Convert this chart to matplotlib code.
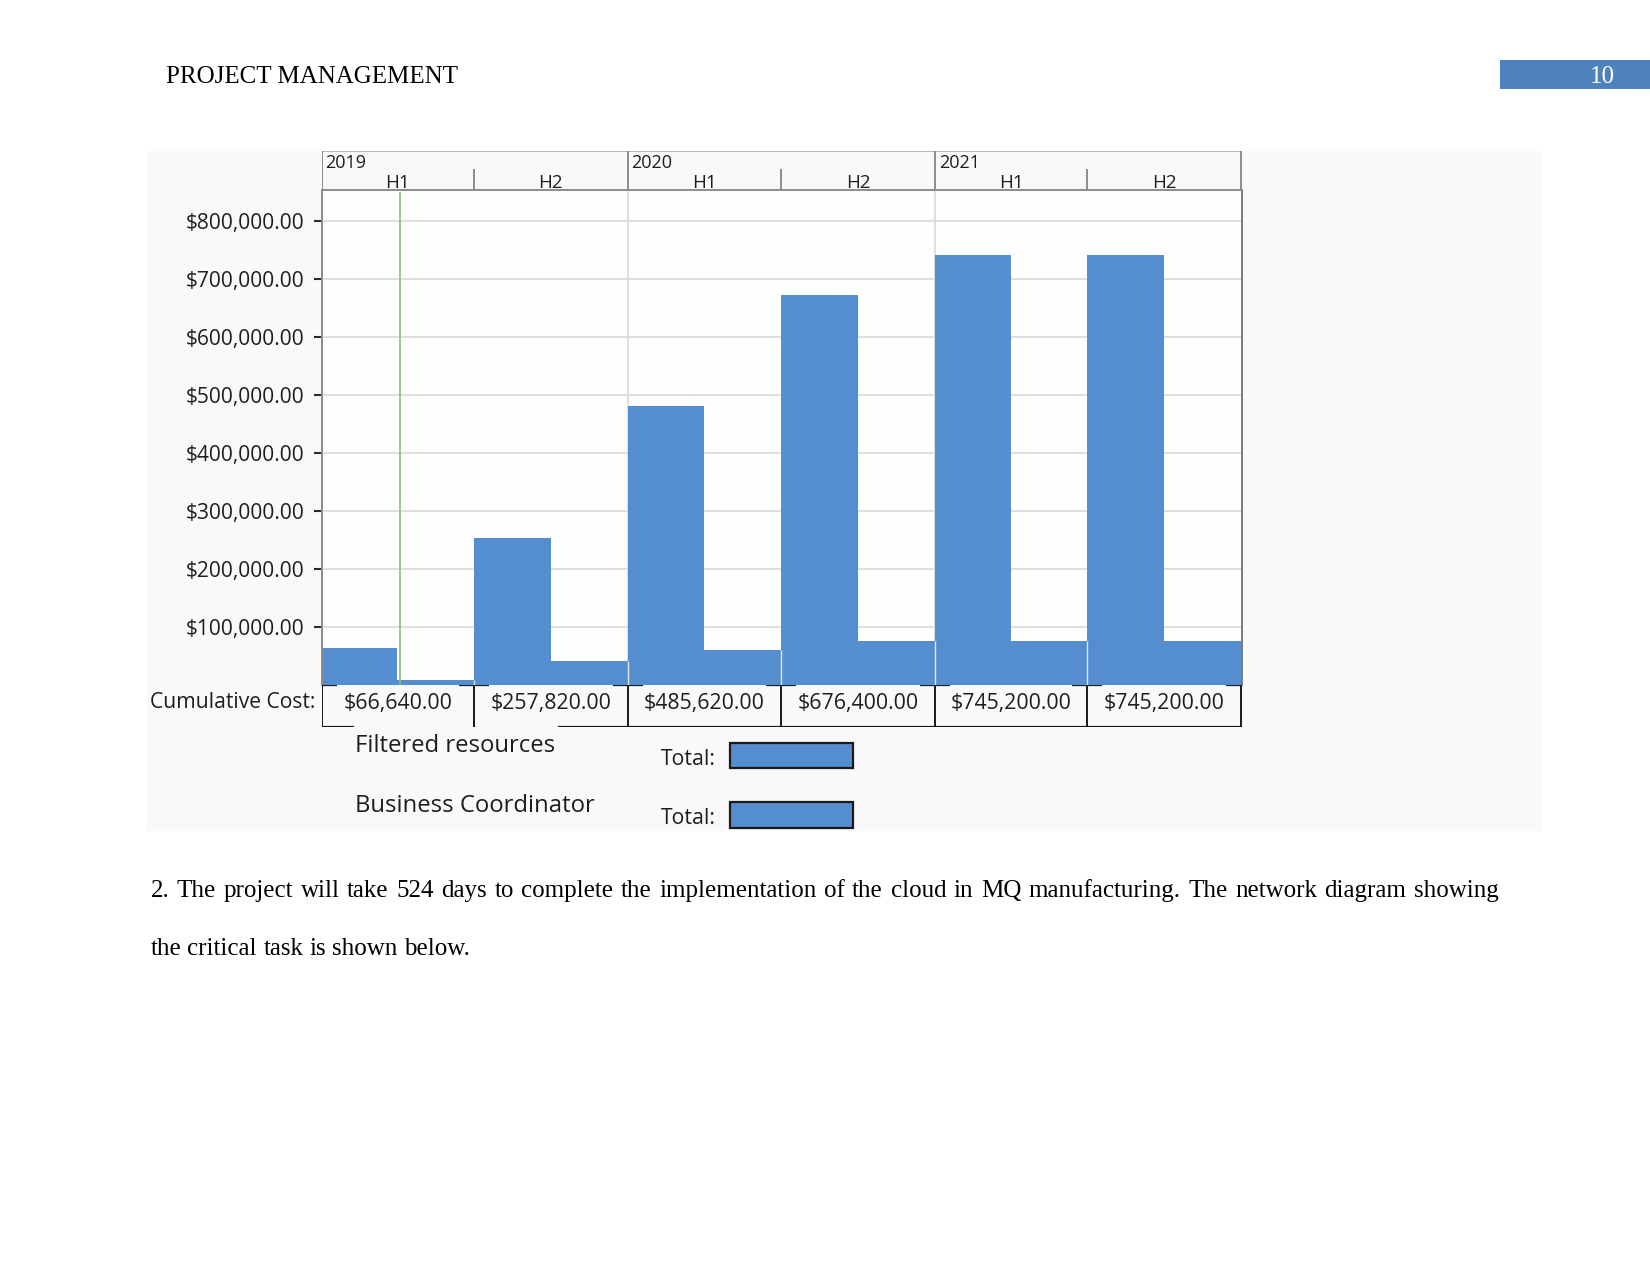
import matplotlib
matplotlib.use('Agg')
import matplotlib.pyplot as plt
from matplotlib.patches import Rectangle
from matplotlib.ticker import FuncFormatter, FixedLocator
import numpy as np
import pandas as pd

# ---------------- data ----------------
years = ['2019', '2020', '2021']
half_labels = ['H1', 'H2', 'H1', 'H2', 'H1', 'H2']
quarter_costs = [64000, 9000, 254000, 42000, 482000, 61000,
                 673000, 77000, 742000, 77000, 742000, 77000]
cumulative_cost = ['$66,640.00', '$257,820.00', '$485,620.00',
                   '$676,400.00', '$745,200.00', '$745,200.00']
ytick_values = [100000, 200000, 300000, 400000, 500000, 600000, 700000, 800000]
status_date = '2019-04-04'
legend_rows = ['Filtered resources', 'Business Coordinator']
page_title = 'PROJECT MANAGEMENT'
page_number = '10'
body_lines = ['2. The project will take 524 days to complete the implementation of the cloud in MQ manufacturing. The network diagram showing',
              'the critical task is shown below.']

# ---------------- layout helpers ----------------
W, H, DPI = 1650, 1275, 100
def fx(p): return p / W
def fy(p): return 1 - p / H

BLUE = '#558ecf'
TXT = '#1e1e1e'
UI = ['Open Sans', 'DejaVu Sans']
SERIF = ['Liberation Serif', 'DejaVu Serif']

fig = plt.figure(figsize=(W / DPI, H / DPI), dpi=DPI)
fig.patch.set_facecolor('white')

# screenshot background
fig.patches.append(Rectangle((fx(147), fy(831)), fx(1541.6) - fx(147), (831 - 150.5) / H,
                             transform=fig.transFigure, facecolor='#f9f9f9', edgecolor='none', zorder=-5))

# time positions from quarter dates
qstarts = pd.date_range('2019-01-01', periods=13, freq='QS')
days = np.array((qstarts - qstarts[0]).days, dtype=float)
q_left = days[:-1]
q_width = np.diff(days)
half_b = days[::2]
year_b = days[::4]
total_days = days[-1]
status_x = (pd.Timestamp(status_date) - qstarts[0]).days

L, R = 321.7, 1241.5
TOP_PLOT, ZERO = 190.0, 685.4
ymax = 100000 * (ZERO - TOP_PLOT) / 58.04

# ---------------- main plot ----------------
ax = fig.add_axes([fx(L), fy(ZERO), fx(R) - fx(L), (ZERO - TOP_PLOT) / H])
ax.set_facecolor('#fefefe')
ax.set_xlim(0, total_days)
ax.set_ylim(0, ymax)
for v in ytick_values:
    ax.axhline(v, color='#d6d6d6', lw=1.1, zorder=1)
for b in year_b[1:-1]:
    ax.axvline(b, color='#d6d6d6', lw=1.1, zorder=1)
ax.bar(q_left, quarter_costs, width=q_width, align='edge', color=BLUE, edgecolor='none', zorder=2)
# faint separators between half-years, only where bars meet
qc = np.array(quarter_costs)
for k in range(2, len(qc), 2):
    ax.vlines(q_left[k], 0, min(qc[k - 1], qc[k]), color='#dde8f5', lw=1.0, zorder=3)
ax.axvline(status_x, ymax=0.994, color='#86bd78', lw=1.2, zorder=4)

ax.yaxis.set_major_locator(FixedLocator(ytick_values))
ax.yaxis.set_major_formatter(FuncFormatter(lambda v, p: f'${v:,.2f}'))
ax.set_xticks([])
ax.tick_params(axis='y', length=5.5, width=1.5, color='#2a2a2a', pad=7,
               labelsize=15.1, labelcolor=TXT)
for lab in ax.get_yticklabels():
    lab.set_fontfamily(UI)
ax.spines['bottom'].set_visible(False)
ax.spines['left'].set_color('#8c8c8c')
ax.spines['right'].set_color('#7a7a7a')
ax.spines['top'].set_color('#8c8c8c')
for s in ['left', 'right', 'top']:
    ax.spines[s].set_linewidth(1.4)

# ---------------- header (timescale) ----------------
HT = 150.7
hax = fig.add_axes([fx(L), fy(TOP_PLOT), fx(R) - fx(L), (TOP_PLOT - HT) / H])
hax.set_xlim(0, total_days)
hax.set_ylim(0, 1)
hax.axis('off')
hax.axhline(1, color='#b0b0b0', lw=1.3)
hax.vlines(year_b, 0, 1, color='#8c8c8c', lw=1.4)
hax.vlines(half_b[1::2], 0, 0.53, color='#8c8c8c', lw=1.4)
for i, y in enumerate(years):
    hax.annotate(y, (year_b[i], 0.69), xytext=(2.5, 0), textcoords='offset points',
                 va='center', ha='left', fontsize=13, family=UI, color=TXT)
for i, h in enumerate(half_labels):
    hax.text((half_b[i] + half_b[i + 1]) / 2, 0.17, h, ha='center', va='center',
             fontsize=13.5, family=UI, color=TXT)

# ---------------- cumulative cost table ----------------
TB = 726.7
tax = fig.add_axes([fx(L), fy(TB), fx(R) - fx(L), (TB - ZERO) / H])
tax.set_xlim(0, total_days)
tax.set_ylim(0, 1)
tax.axis('off')
tax.patch.set_visible(False)
tax.vlines(half_b, 0, 1, color='#1a1a1a', lw=1.4)
d_per_px = total_days / (R - L)
seg = 15 * d_per_px
for b in half_b:
    tax.hlines(1, max(b - seg, 0), min(b + seg, total_days), color='#1a1a1a', lw=1.6)
gap0, gap1 = (353.6 - L) * d_per_px, (557.7 - L) * d_per_px
tax.hlines(0, 0, gap0, color='#1a1a1a', lw=1.6)
tax.hlines(0, gap1, total_days, color='#1a1a1a', lw=1.6)
for i, c in enumerate(cumulative_cost):
    tax.text((half_b[i] + half_b[i + 1]) / 2, (TB - 708.8) / (TB - ZERO), c,
             ha='center', va='baseline', fontsize=15.3, family=UI, color=TXT)
fig.text(fx(315.7), fy(707.5), 'Cumulative Cost:', ha='right', va='baseline',
         fontsize=15.2, family=UI, color=TXT)

# ---------------- legend rows ----------------
row_base = [752, 812]
total_base = [765, 824]
box_top = [742.7, 802.3]
for i, name in enumerate(legend_rows):
    fig.text(fx(354.6), fy(row_base[i]), name, ha='left', va='baseline',
             fontsize=17.2, family=UI, color=TXT)
    fig.text(fx(715.5), fy(total_base[i]), 'Total:', ha='right', va='baseline',
             fontsize=15.3, family=UI, color=TXT)
    fig.patches.append(Rectangle((fx(729.5), fy(box_top[i] + 25.5)), fx(852.5) - fx(729.5), 25.5 / H,
                                 transform=fig.transFigure, facecolor=BLUE,
                                 edgecolor='#1a1a1a', lw=1.6, zorder=2))

# ---------------- page furniture ----------------
fig.text(fx(166), fy(83.3), page_title, ha='left', va='baseline',
         fontsize=18, family=SERIF, color='#000000')
fig.patches.append(Rectangle((fx(1499.5), fy(89.2)), 1 - fx(1499.5), (89.2 - 60) / H,
                             transform=fig.transFigure, facecolor='#4f81bd', edgecolor='none'))
fig.text(fx(1602), fy(83), page_number, ha='center', va='baseline',
         fontsize=18, family=SERIF, color='white')

# justified body text
renderer = fig.canvas.get_renderer()
BODY_L, BODY_R = 150.5, 1498.5
baselines = [897, 955]
for li, line in enumerate(body_lines):
    words = line.split()
    texts = [fig.text(0, 0, w, ha='left', va='baseline', fontsize=18, family=SERIF,
                      color='#000000') for w in words]
    widths = [t.get_window_extent(renderer).width for t in texts]
    space = texts[0].get_fontsize() * DPI / 72 * 0.25
    if li < len(body_lines) - 1:
        gap = (BODY_R - BODY_L - sum(widths)) / (len(words) - 1)
    else:
        gap = space
    x = BODY_L
    for t, w in zip(texts, widths):
        t.set_position((fx(x), fy(baselines[li])))
        x += w + gap

fig.savefig('out.png', dpi=DPI, facecolor='white')
